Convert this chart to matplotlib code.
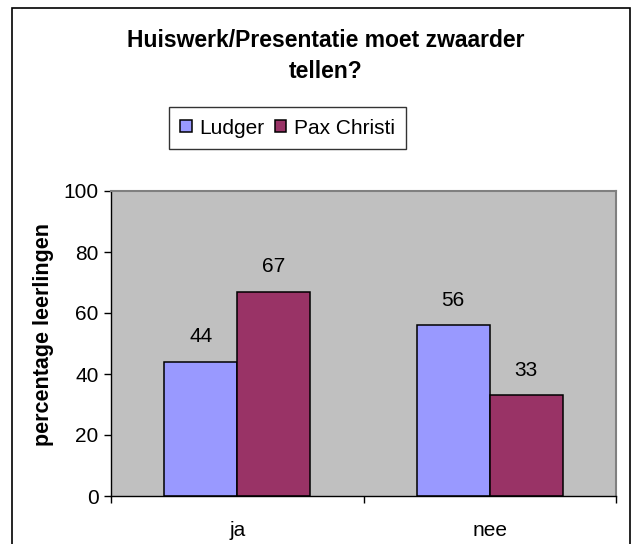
import matplotlib
matplotlib.use('Agg')
import matplotlib.pyplot as plt
import numpy as np
from matplotlib.patches import Rectangle

plt.rcParams['font.family'] = ['Liberation Sans', 'DejaVu Sans']

# data
categories = ['ja', 'nee']
series_names = ['Ludger', 'Pax Christi']
ludger = [44, 56]
pax_christi = [67, 33]
colors = ['#9999FF', '#993366']

W, H = 631, 544
fig = plt.figure(figsize=(W / 100, H / 100), dpi=100)

# outer chart border
fig.patches.append(Rectangle((11.5 / W, -0.02), (629.5 - 11.5) / W, (H - 7.5) / H + 0.02,
                             transform=fig.transFigure, fill=False,
                             edgecolor='black', linewidth=1.2))

# plot area in pixels: left 111, right 616, top 191, bottom 496
ax = fig.add_axes([111 / W, (H - 496) / H, (616 - 111) / W, (496 - 191) / H])
ax.set_facecolor('#C0C0C0')

x = np.arange(len(categories))
bw = 0.29
b1 = ax.bar(x - bw / 2, ludger, bw, color=colors[0], edgecolor='black', linewidth=1.1, label=series_names[0])
b2 = ax.bar(x + bw / 2, pax_christi, bw, color=colors[1], edgecolor='black', linewidth=1.1, label=series_names[1])

for bars in (b1, b2):
    for r in bars:
        ax.annotate(f'{r.get_height():.0f}', (r.get_x() + r.get_width() / 2, r.get_height()),
                    xytext=(0, 18), textcoords='offset points', ha='center', va='center',
                    fontsize=15)

ax.set_xlim(-0.5, 1.5)
ax.set_ylim(0, 100)
ax.set_yticks([0, 20, 40, 60, 80, 100])
ax.set_xticks([-0.5, 0.5, 1.5])
ax.set_xticklabels([])
ax.set_xticks([0, 1], minor=True)
ax.set_xticklabels(categories, minor=True)
ax.tick_params(axis='x', which='minor', length=0, pad=18, labelsize=15)
ax.tick_params(axis='x', which='major', length=5, direction='out', width=1)
ax.tick_params(axis='y', length=5, direction='out', width=1, labelsize=15, pad=4)

for s in ('top', 'right'):
    ax.spines[s].set_color('#808080')
    ax.spines[s].set_linewidth(1.5)
for s in ('left', 'bottom'):
    ax.spines[s].set_color('black')
    ax.spines[s].set_linewidth(1)

ax.set_ylabel('percentage leerlingen', fontsize=15.5, fontweight='bold')
ax.yaxis.set_label_coords(-0.113, 0.53)

fig.text(326 / W, 1 - 56 / H, 'Huiswerk/Presentatie moet zwaarder\ntellen?',
         ha='center', va='center', fontsize=16.5, fontweight='bold', linespacing=1.45)

leg = fig.legend(handles=[b1, b2], loc='center', bbox_to_anchor=(287.5 / W, 1 - 128 / H),
                 ncol=2, fontsize=15, frameon=True, fancybox=False, borderpad=0.55,
                 handlelength=0.55, handleheight=0.55, handletextpad=0.35, columnspacing=0.5,
                 borderaxespad=0, edgecolor='black')
leg.get_frame().set_linewidth(1)

fig.savefig('out.png', dpi=100)
